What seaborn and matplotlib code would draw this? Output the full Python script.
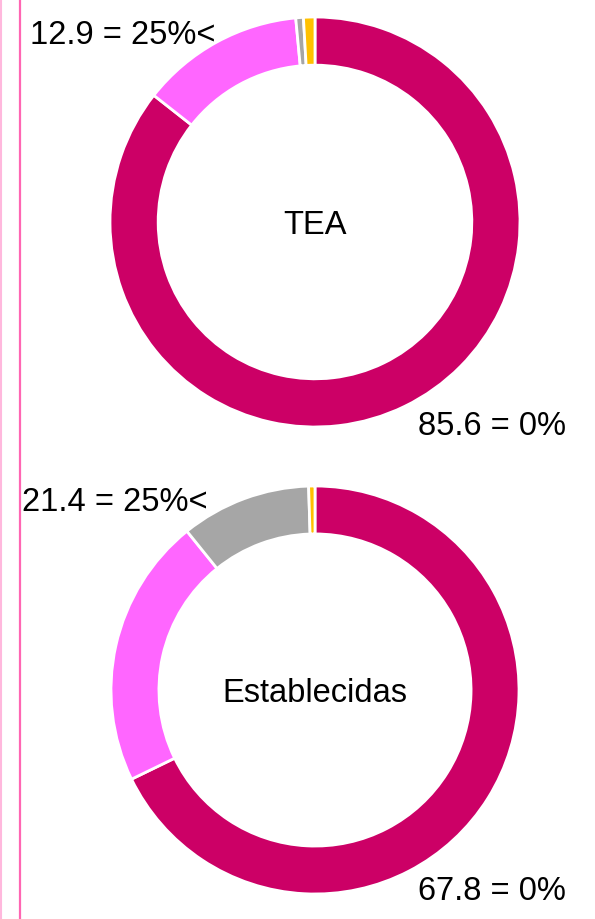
import seaborn as sns
import matplotlib.pyplot as plt
from matplotlib.lines import Line2D

sns.set_theme(style="white")
plt.rcParams['font.family'] = ['Liberation Sans', 'DejaVu Sans']

# shares by category, clockwise from 12 o'clock
categories = ["0%", "25%<", "otro", "n/d"]
tea = [85.6, 12.9, 0.6, 0.9]
establecidas = [67.8, 21.4, 10.3, 0.5]
colors = ["#CC0066", "#FF66FF", "#A6A6A6", "#FFC000"]

W, H = 595, 919
fig = plt.figure(figsize=(W / 100, H / 100), dpi=100)


def donut(values, title, cx, cy, r):
    ax = fig.add_axes([(cx - r) / W, (H - cy - r) / H, 2 * r / W, 2 * r / H])
    ax.pie(values, colors=colors, startangle=90, counterclock=False,
           radius=1, wedgeprops=dict(width=0.235, edgecolor="white", linewidth=2))
    ax.set_xlim(-1, 1)
    ax.set_ylim(-1, 1)
    ax.set_aspect("equal")
    ax.axis("off")
    ax.text(0, -0.015, title, ha="center", va="center", fontsize=23.5, color="black")
    return ax


donut(tea, "TEA", 315, 222, 205)
donut(establecidas, "Establecidas", 315, 690, 204)

lab = dict(fontsize=23.5, color="black", va="center", ha="left")
fig.text(30 / W, 1 - 35 / H, f"{tea[1]} = {categories[1]}", **lab)
fig.text(418 / W, 1 - 427 / H, f"{tea[0]} = {categories[0]}", **lab)
fig.text(22 / W, 1 - 502 / H, f"{establecidas[1]} = {categories[1]}", **lab)
fig.text(418 / W, 1 - 891 / H, f"{establecidas[0]} = {categories[0]}", **lab)

fig.add_artist(Line2D([0.5 / W, 0.5 / W], [0, 1], color="#FFB8DD", lw=1.5))
fig.add_artist(Line2D([20 / W, 20 / W], [0, 1], color="#FF66B3", lw=1.6))

fig.savefig("out.png", dpi=100)
